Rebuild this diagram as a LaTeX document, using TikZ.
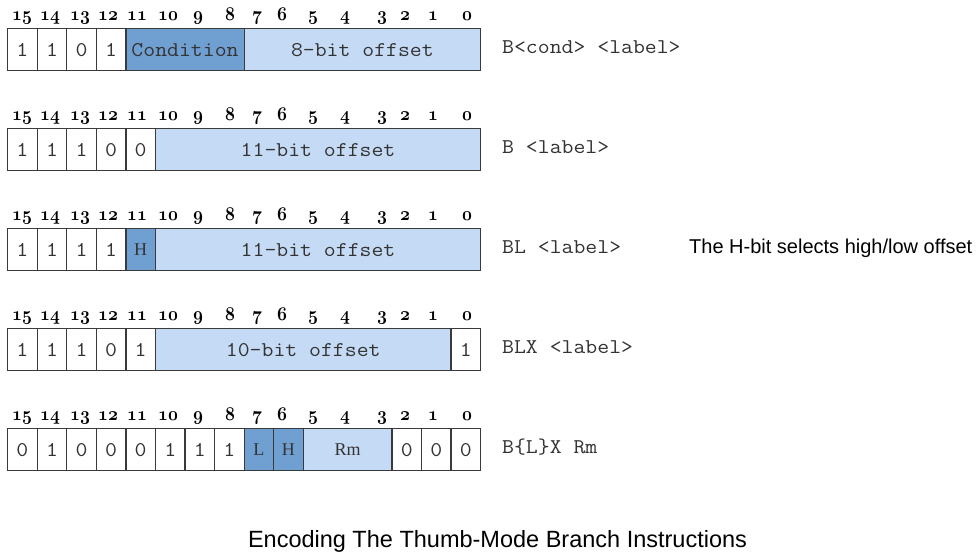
\documentclass[tikz,border=0pt]{standalone}
\usepackage{fontspec}
\setmainfont{Liberation Sans}
\newfontfamily\monof{Latin Modern Mono}[FakeStretch=1.1]
\newfontfamily\seriff{Liberation Serif}
\definecolor{darkfield}{HTML}{709FD2}
\definecolor{lightfield}{HTML}{C5DBF5}
\definecolor{cellline}{HTML}{3A3A3A}
\definecolor{celltext}{HTML}{333333}
\newcommand\bitfont{\fontsize{17.28}{18}\usefont{OML}{cmm}{b}{it}}
\newcommand\bitcell[6]{%
  \node[cellbox,#5,minimum width={(#3-#2)*29.5625pt},anchor=north west] (#1) at ({7+#2*29.5625},#4) {#6};}
\newcommand\bitnums[2]{%
  \foreach \b/\xx in {15/22,14/50,13/80,12/108,11/137,10/168,9/198,8/230,7/257,6/282,5/313,4/345,3/382,2/405,1/433,0/467}
    {\node[bitnum] (#1n\b) at (\xx,#2-8) {\scalebox{1}[1.12]{\b}};}}
\tikzset{
  cellbox/.style={draw=cellline,line width=1.3pt,rectangle,inner sep=0pt,minimum height=42pt,
    text=celltext,font=\monof\fontsize{21}{21}\selectfont},
  plain/.style={fill=white},
  dark/.style={fill=darkfield},
  light/.style={fill=lightfield},
  sercell/.style={font=\seriff\fontsize{18}{18}\selectfont},
  bitnum/.style={anchor=base,inner sep=0pt,font=\bitfont},
  instr/.style={anchor=base west,inner sep=0pt,text=celltext,font=\monof\fontsize{21}{21}\selectfont},
}
\begin{document}
\begin{tikzpicture}[x=1pt,y=-1pt]
\useasboundingbox[fill=white] (0,0) rectangle (980,558);
% Row 1
\bitnums{a}{28}
\bitcell{a0}{0}{1}{28}{plain}{1}
\bitcell{a1}{1}{2}{28}{plain}{1}
\bitcell{a2}{2}{3}{28}{plain}{0}
\bitcell{a3}{3}{4}{28}{plain}{1}
\bitcell{a4}{4}{8}{28}{dark}{Condition}
\bitcell{a5}{8}{16}{28}{light}{8-bit offset}
\node[instr] (ai) at (502,53) {B<cond> <label>};
% Row 2
\bitnums{b}{128}
\bitcell{b0}{0}{1}{128}{plain}{1}
\bitcell{b1}{1}{2}{128}{plain}{1}
\bitcell{b2}{2}{3}{128}{plain}{1}
\bitcell{b3}{3}{4}{128}{plain}{0}
\bitcell{b4}{4}{5}{128}{plain}{0}
\bitcell{b5}{5}{16}{128}{light}{11-bit offset}
\node[instr] (bi) at (502,153) {B <label>};
% Row 3
\bitnums{c}{228}
\bitcell{c0}{0}{1}{228}{plain}{1}
\bitcell{c1}{1}{2}{228}{plain}{1}
\bitcell{c2}{2}{3}{228}{plain}{1}
\bitcell{c3}{3}{4}{228}{plain}{1}
\bitcell{c4}{4}{5}{228}{dark,sercell}{H}
\bitcell{c5}{5}{16}{228}{light}{11-bit offset}
\node[instr] (ci) at (502,253) {BL <label>};
\node[anchor=base west,inner sep=0pt,font=\fontsize{20}{20}\selectfont] (note) at (689,253) {The H-bit selects high/low offset};
% Row 4
\bitnums{d}{328}
\bitcell{d0}{0}{1}{328}{plain}{1}
\bitcell{d1}{1}{2}{328}{plain}{1}
\bitcell{d2}{2}{3}{328}{plain}{1}
\bitcell{d3}{3}{4}{328}{plain}{0}
\bitcell{d4}{4}{5}{328}{plain}{1}
\bitcell{d5}{5}{15}{328}{light}{10-bit offset}
\bitcell{d6}{15}{16}{328}{plain}{1}
\node[instr] (di) at (502,353) {BLX <label>};
% Row 5
\bitnums{e}{428}
\bitcell{e0}{0}{1}{428}{plain}{0}
\bitcell{e1}{1}{2}{428}{plain}{1}
\bitcell{e2}{2}{3}{428}{plain}{0}
\bitcell{e3}{3}{4}{428}{plain}{0}
\bitcell{e4}{4}{5}{428}{plain}{0}
\bitcell{e5}{5}{6}{428}{plain}{1}
\bitcell{e6}{6}{7}{428}{plain}{1}
\bitcell{e7}{7}{8}{428}{plain}{1}
\bitcell{e8}{8}{9}{428}{dark,sercell}{L}
\bitcell{e9}{9}{10}{428}{dark,sercell}{H}
\bitcell{e10}{10}{13}{428}{light,sercell}{Rm}
\bitcell{e11}{13}{14}{428}{plain}{0}
\bitcell{e12}{14}{15}{428}{plain}{0}
\bitcell{e13}{15}{16}{428}{plain}{0}
\node[instr] (ei) at (502,453) {B\{L\}X Rm};
% Title
\node[anchor=base,inner sep=0pt,font=\fontsize{23.5}{23.5}\selectfont] (title) at (497.5,547) {Encoding The Thumb-Mode Branch Instructions};
\end{tikzpicture}
\end{document}
